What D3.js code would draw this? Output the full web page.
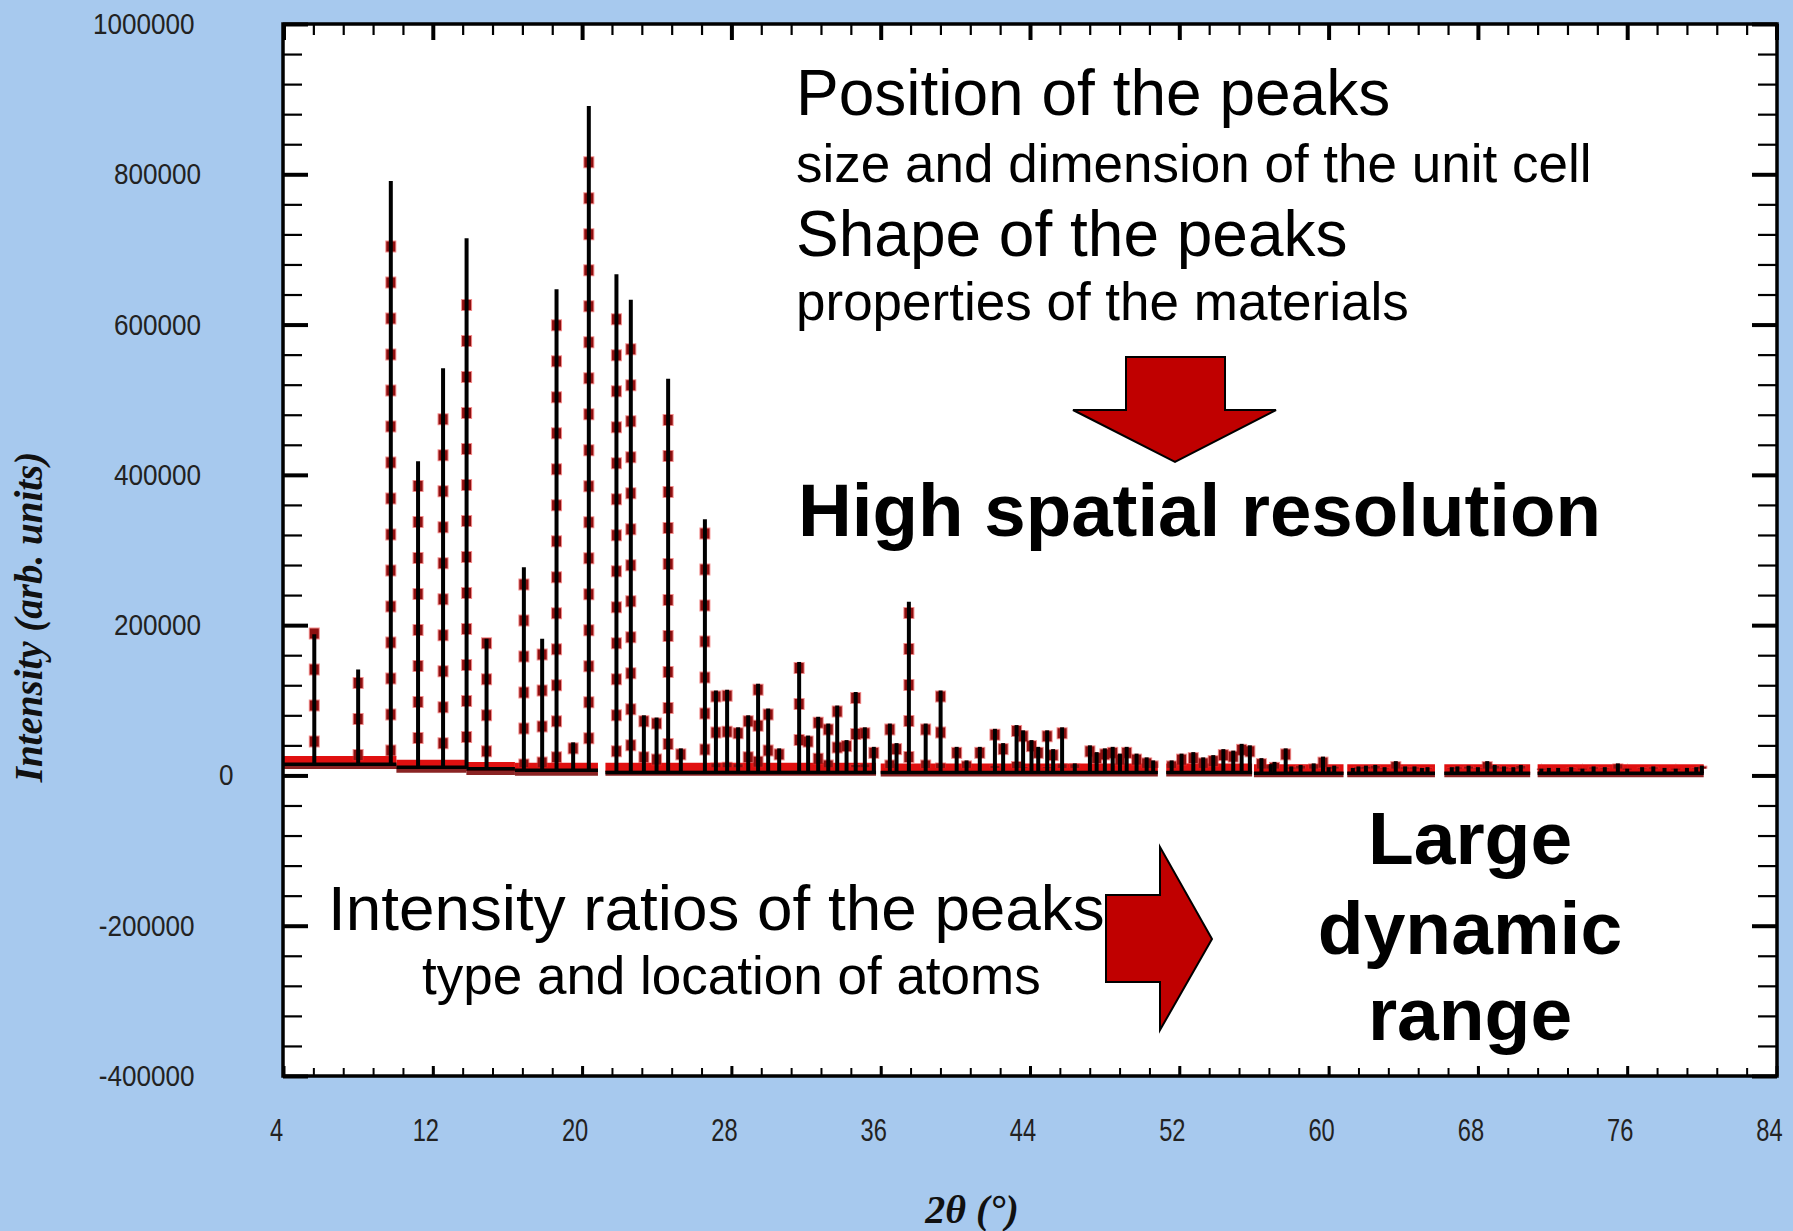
<!DOCTYPE html>
<html>
<head>
<meta charset="utf-8">
<script src="https://cdn.jsdelivr.net/npm/d3@7"></script>
<style>
  html, body { margin: 0; padding: 0; background: #A7C9EE; }
  svg { display: block; }
</style>
</head>
<body>
<svg id="chart" width="1793" height="1231"></svg>
<script>
// ---------------- DATA ----------------
const xTickLabels = [4, 12, 20, 28, 36, 44, 52, 60, 68, 76, 84];
const yTickLabels = [-400000, -200000, 0, 200000, 400000, 600000, 800000, 1000000];

// Bragg peak positions (2theta, degrees)
const peakPos = [5.65, 8.0, 9.75, 11.21, 12.55, 13.81, 14.88, 16.88, 17.86, 18.63,
  19.52, 20.36, 21.84, 22.61, 23.31, 23.99, 24.61, 25.29, 26.58, 27.17,
  27.77, 28.36, 28.9, 29.43, 29.97, 30.56, 31.63, 32.11, 32.65, 33.19,
  33.67, 34.17, 34.66, 35.15, 35.63, 36.49, 36.85, 37.51, 38.41, 39.21,
  40.07, 40.6, 41.31, 42.12, 42.56, 43.28, 43.63, 44.08, 44.44, 44.92,
  45.24, 45.72, 46.4, 47.21, 47.57, 48.01, 48.43, 48.82, 49.18, 49.71,
  50.25, 50.6, 51.59, 52.12, 52.75, 53.28, 53.82, 54.36, 54.89, 55.34,
  55.78, 56.4, 56.9, 57.1, 57.7, 58.0, 58.5, 59.2, 59.7, 60.0,
  60.3, 61.3, 61.6, 62.0, 62.5, 63.0, 63.6, 64.1, 64.6, 65.0,
  65.3, 66.6, 66.9, 67.5, 68.0, 68.5, 68.9, 69.4, 69.9, 70.3,
  71.4, 71.8, 72.3, 73.0, 73.6, 74.2, 74.8, 75.5, 76.0, 76.8,
  77.4, 78.0, 78.6, 79.2, 79.7, 80.0];
// calculated intensity (black)
const peakCalc = [188000, 141000, 791000, 418000, 542000, 715000, 182000, 277000, 182000, 647000,
  44000, 891000, 667000, 633000, 80000, 77000, 528000, 36000, 341000, 113000,
  114000, 64000, 80000, 122000, 89000, 36000, 151000, 53000, 78000, 69000,
  93000, 47000, 111000, 64000, 38000, 69000, 43000, 231000, 69000, 113000,
  38000, 20000, 38000, 62000, 43000, 67000, 60000, 47000, 38000, 60000,
  35000, 64000, 16000, 40000, 31000, 36000, 38000, 29000, 38000, 29000,
  24000, 20000, 20000, 29000, 31000, 24000, 27000, 35000, 33000, 42000,
  40000, 23000, 15000, 18000, 36000, 12000, 14000, 16000, 25000, 11000,
  13000, 10000, 12000, 13000, 14000, 11000, 19000, 12000, 12000, 10000,
  11000, 11000, 12000, 13000, 11000, 19000, 14000, 12000, 11000, 14000,
  9000, 10000, 10000, 11000, 9000, 12000, 11000, 16000, 9000, 11000,
  12000, 10000, 9000, 10000, 11000, 13000];
// observed intensity (red)
const peakObs = [197000, 131000, 712000, 393000, 482000, 634000, 184000, 262000, 169000, 607000,
  44000, 824000, 615000, 575000, 80000, 77000, 481000, 36000, 330000, 113000,
  114000, 64000, 80000, 122000, 89000, 36000, 151000, 53000, 78000, 69000,
  93000, 47000, 111000, 64000, 38000, 69000, 43000, 224000, 69000, 113000,
  38000, 20000, 38000, 62000, 43000, 67000, 60000, 47000, 38000, 60000,
  35000, 64000, 16000, 40000, 31000, 36000, 38000, 29000, 38000, 29000,
  24000, 20000, 20000, 29000, 31000, 24000, 27000, 35000, 33000, 42000,
  40000, 23000, 15000, 18000, 36000, 12000, 14000, 16000, 25000, 11000,
  13000, 10000, 12000, 13000, 14000, 11000, 19000, 12000, 12000, 10000,
  11000, 11000, 12000, 13000, 11000, 19000, 14000, 12000, 11000, 14000,
  9000, 10000, 10000, 11000, 9000, 12000, 11000, 16000, 9000, 11000,
  12000, 10000, 9000, 10000, 11000, 13000];

// background pieces (scan segments)
const bgStart = [4.0, 10.05, 13.8, 16.4, 21.25, 36.0, 51.3, 56.0, 61.0, 66.2, 71.2];
const bgEnd   = [10.05, 13.8, 16.4, 20.85, 35.75, 50.85, 55.9, 60.8, 65.7, 70.8, 80.1];
const bgObs   = [20000, 15000, 12000, 11000, 11000, 10000, 10000, 9000, 9000, 9000, 9000];
const bgCalc  = [15000, 11000, 9000, 7000, 4000, 4000, 4000, 3000, 3000, 3000, 3000];

// ---------------- LAYOUT ----------------
const svg = d3.select("#chart");
const P = { left: 283, right: 1777, top: 24, bottom: 1076 };
const x = d3.scaleLinear().domain([4, 84]).range([P.left + 0.5, P.right - 0.5]);
const y = d3.scaleLinear().domain([-400000, 1000000]).range([P.bottom, P.top]);

svg.append("rect").attr("width", 1793).attr("height", 1231).attr("fill", "#A7C9EE");
svg.append("rect").attr("x", P.left).attr("y", P.top)
  .attr("width", P.right - P.left).attr("height", P.bottom - P.top).attr("fill", "#fff");

// ---------------- TICKS ----------------
const yMinor = d3.range(-400000, 1000001, 40000);
const xMinor = d3.range(4, 84.001, 1.6);

function tickAxis(axisFn, scale, values, size, width, tx, ty) {
  const g = svg.append("g").attr("transform", `translate(${tx},${ty})`)
    .call(axisFn(scale).tickValues(values).tickSize(size).tickFormat(""));
  g.select(".domain").remove();
  g.selectAll(".tick line").attr("stroke", "#000").attr("stroke-width", width);
  return g;
}
tickAxis(d3.axisLeft, y, yMinor, -19, 2.2, P.left, 0);
tickAxis(d3.axisLeft, y, yTickLabels, -25, 4, P.left, 0);
tickAxis(d3.axisRight, y, yMinor, -19, 2.2, P.right, 0);
tickAxis(d3.axisRight, y, yTickLabels, -25, 4, P.right, 0);
tickAxis(d3.axisTop, x, xMinor, -11, 2.2, 0, P.top);
tickAxis(d3.axisTop, x, xTickLabels, -16, 4, 0, P.top);
tickAxis(d3.axisBottom, x, xMinor, -8, 2, 0, P.bottom);
tickAxis(d3.axisBottom, x, xTickLabels, -10, 3, 0, P.bottom);

// ---------------- DATA MARKS ----------------
const bgIndex = p => { for (let i = 0; i < bgStart.length; i++) if (p >= bgStart[i] && p <= bgEnd[i]) return i; return 0; };
const pieces = bgStart.map((s, i) => ({ s, e: bgEnd[i], o: bgObs[i], c: bgCalc[i] }));
const peaks = peakPos.map((p, i) => ({ p, c: peakCalc[i], o: peakObs[i], b: bgIndex(p) }));

const dataG = svg.append("g");
// observed background band (bright red + dark red)
dataG.selectAll(".bgo").data(pieces).join("line")
  .attr("x1", d => x(d.s)).attr("x2", d => x(d.e))
  .attr("y1", d => y(d.o)).attr("y2", d => y(d.o))
  .attr("stroke", "#E01010").attr("stroke-width", 9);
dataG.selectAll(".bgo2").data(pieces).join("line")
  .attr("x1", d => x(d.s)).attr("x2", d => x(d.e))
  .attr("y1", d => y(d.o) + 6).attr("y2", d => y(d.o) + 6)
  .attr("stroke", "#7E0C0C").attr("stroke-width", 5).attr("opacity", 0.9);
// observed peaks: red glow + dark red markers
dataG.selectAll(".po0").data(peaks).join("line")
  .attr("x1", d => x(d.p)).attr("x2", d => x(d.p))
  .attr("y1", d => y(d.o)).attr("y2", d => y(bgObs[d.b]))
  .attr("stroke", "#E83030").attr("stroke-width", 11).attr("opacity", 0.55)
  .attr("stroke-dasharray", "12 24");
dataG.selectAll(".po").data(peaks).join("line")
  .attr("x1", d => x(d.p)).attr("x2", d => x(d.p))
  .attr("y1", d => y(d.o) + 1).attr("y2", d => y(bgObs[d.b]))
  .attr("stroke", "#8E1010").attr("stroke-width", 9)
  .attr("stroke-dasharray", "10 26");
// calculated background
dataG.selectAll(".bgc").data(pieces).join("line")
  .attr("x1", d => x(d.s)).attr("x2", d => x(d.e))
  .attr("y1", d => y(d.c)).attr("y2", d => y(d.c))
  .attr("stroke", "#000").attr("stroke-width", 3.5);
// calculated peaks (black)
dataG.selectAll(".pc").data(peaks).join("line")
  .attr("x1", d => x(d.p)).attr("x2", d => x(d.p))
  .attr("y1", d => y(d.c)).attr("y2", d => y(bgCalc[d.b]))
  .attr("stroke", "#000").attr("stroke-width", 4);

// ---------------- FRAME ----------------
svg.append("rect").attr("x", P.left).attr("y", P.top)
  .attr("width", P.right - P.left).attr("height", P.bottom - P.top)
  .attr("fill", "none").attr("stroke", "#000").attr("stroke-width", 3.5);

// ---------------- TICK LABELS ----------------
svg.selectAll(".yl").data(yTickLabels).join("text")
  .attr("transform", d => `translate(${240 - 6.5 * String(d).length},${y(d) + 10}) scale(0.9,1)`)
  .attr("text-anchor", "end")
  .attr("font-family", "'Liberation Sans', Arial, sans-serif")
  .attr("font-size", 29).attr("fill", "#222")
  .text(d => d);

svg.selectAll(".xl").data(xTickLabels).join("text")
  .attr("transform", d => `translate(${x(d) - 7},1141) scale(0.74,1)`)
  .attr("text-anchor", "middle")
  .attr("font-family", "'Liberation Sans', Arial, sans-serif")
  .attr("font-size", 32).attr("fill", "#222")
  .text(d => d);

// ---------------- AXIS TITLES ----------------
svg.append("text").attr("x", 972).attr("y", 1223).attr("text-anchor", "middle")
  .attr("font-family", "'Liberation Serif', 'Times New Roman', serif")
  .attr("font-style", "italic").attr("font-weight", "bold")
  .attr("font-size", 40).attr("fill", "#111").text("2θ (°)");

svg.append("text").attr("transform", "translate(42,617) rotate(-90)")
  .attr("text-anchor", "middle")
  .attr("font-family", "'Liberation Serif', 'Times New Roman', serif")
  .attr("font-style", "italic").attr("font-weight", "bold")
  .attr("font-size", 39).attr("fill", "#111").text("Intensity (arb. units)");

// ---------------- ANNOTATIONS ----------------
const sans = "'Liberation Sans', Arial, Helvetica, sans-serif";
const notes = [
  { t: "Position of the peaks", x: 796, y: 115, s: 64, w: "normal", a: "start" },
  { t: "size and dimension of the unit cell", x: 796, y: 182, s: 53, w: "normal", a: "start" },
  { t: "Shape of the peaks", x: 796, y: 256, s: 64, w: "normal", a: "start" },
  { t: "properties of the materials", x: 796, y: 320, s: 53, w: "normal", a: "start" },
  { t: "High spatial resolution", x: 798, y: 536, s: 74.5, w: "bold", a: "start" },
  { t: "Intensity ratios of the peaks", x: 328, y: 930, s: 63.8, w: "normal", a: "start" },
  { t: "type and location of atoms", x: 422, y: 994, s: 53, w: "normal", a: "start" },
  { t: "Large", x: 1470, y: 864, s: 75, w: "bold", a: "middle" },
  { t: "dynamic", x: 1470, y: 954, s: 75, w: "bold", a: "middle" },
  { t: "range", x: 1470, y: 1040, s: 75, w: "bold", a: "middle" }
];
svg.selectAll(".note").data(notes).join("text")
  .attr("x", d => d.x).attr("y", d => d.y)
  .attr("text-anchor", d => d.a)
  .attr("font-family", sans).attr("font-size", d => d.s).attr("font-weight", d => d.w)
  .attr("fill", "#000").text(d => d.t);

// arrows
const downArrow = [[1126, 357], [1225, 357], [1225, 410], [1276, 410], [1175, 462], [1073, 410], [1126, 410]];
const rightArrow = [[1106, 895], [1160, 895], [1160, 847], [1212, 939], [1160, 1030], [1160, 982], [1106, 982]];
svg.selectAll(".arrow").data([downArrow, rightArrow]).join("path")
  .attr("d", d => "M" + d.map(p => p.join(",")).join("L") + "Z")
  .attr("fill", "#C00000").attr("stroke", "#000").attr("stroke-width", 2);
</script>
</body>
</html>
